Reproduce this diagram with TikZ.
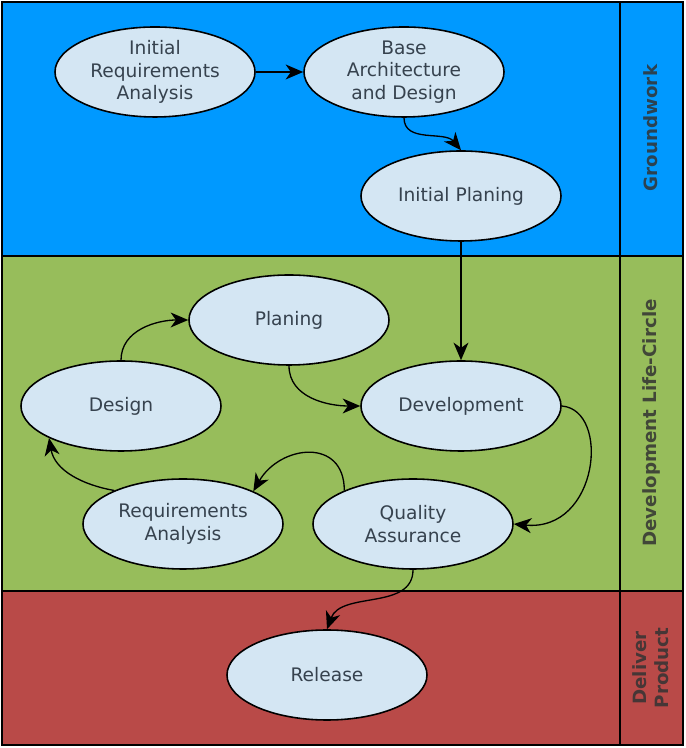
\documentclass[tikz,border=0pt]{standalone}
\usepackage{fontspec}
\setmainfont{DejaVu Sans}
\usetikzlibrary{shapes.geometric,arrows.meta}
\definecolor{groundblue}{HTML}{0099FF}
\definecolor{devgreen}{HTML}{97BD5B}
\definecolor{deliverred}{HTML}{B94A48}
\definecolor{stepfill}{HTML}{D4E6F3}
\definecolor{steptext}{HTML}{36424E}
\definecolor{lanetext}{HTML}{333333}
\tikzset{
	stage/.style={ellipse, draw=black, line width=0.9pt, fill=stepfill, minimum width=4cm, minimum height=1.8cm, inner sep=0pt, align=center, text=steptext, font=\fontsize{10.6}{12.8}\selectfont},
	lane/.style={rotate=90, align=center, text=lanetext, text opacity=0.85, font=\fontsize{10.4}{12.6}\selectfont\bfseries},
	flow/.style={line width=0.75pt, -{Stealth[length=10pt,width=8.5pt,inset=3pt]}}
}

\begin{document}
\begin{tikzpicture}
		%%%%% START %%%%%
		\useasboundingbox (0, 0) rectangle (13.7, 14.96);
		
		\draw[line width=0.9pt, fill=groundblue] (0.04, 9.84) rectangle (13.66, 14.92);
		\draw[line width=0.9pt, fill=devgreen] (0.04, 3.14) rectangle (13.66, 9.84);
		\draw[line width=0.9pt, fill=deliverred] (0.04, 0.06) rectangle (13.66, 3.14);
		\draw[line width=0.9pt] (12.4, 0.06) -- (12.4, 14.92);
		\draw[line width=1pt] (0.04, 0.06) rectangle (13.66, 14.92);
		
		\node[lane] (groundwork) at (13.02, 12.4) {Groundwork};
		\node[lane] (lifecircle) at (13.02, 6.5) {Development Life-Circle};
		\node[lane] (deliver) at (13.02, 1.6) {Deliver\\Product};
		
		\node[stage] (initreq) at (3.10, 13.52) {Initial\\Requirements\\Analysis};
		\node[stage] (basearch) at (8.08, 13.52) {Base\\Architecture\\and Design};
		\node[stage] (initplan) at (9.22, 11.04) {Initial Planing};
		
		\node[stage] (planing) at (5.78, 8.56) {Planing};
		\node[stage] (design) at (2.42, 6.84) {Design};
		\node[stage] (development) at (9.22, 6.84) {Development};
		\node[stage] (reqana) at (3.66, 4.48) {Requirements\\Analysis};
		\node[stage] (quality) at (8.26, 4.48) {Quality\\Assurance};
		
		\node[stage] (release) at (6.54, 1.46) {Release};
		
		\draw[flow] (initreq.east) -- (basearch.west);
		\draw[flow] (basearch.south) to[out=-90, in=130] (initplan.north);
		\draw[flow] (initplan.south) -- (development.north);
		
		\draw[flow] (planing.south) to[out=-90, in=180] (development.west);
		\draw[flow] (development.east) .. controls +(0.98, -0.08) and +(1.7, -0.16) .. (quality.east);
		\draw[flow] (quality.154) to[out=90, in=60, looseness=1.5] (reqana.25);
		\draw[flow] (reqana.154) to[out=170, in=-80] (design.204);
		\draw[flow] (design.north) to[out=90, in=180] (planing.west);
		
		\draw[flow] (quality.south) to[out=-90, in=70] (release.north);
		%%%%% END %%%%%
	\end{tikzpicture}
\end{document}
